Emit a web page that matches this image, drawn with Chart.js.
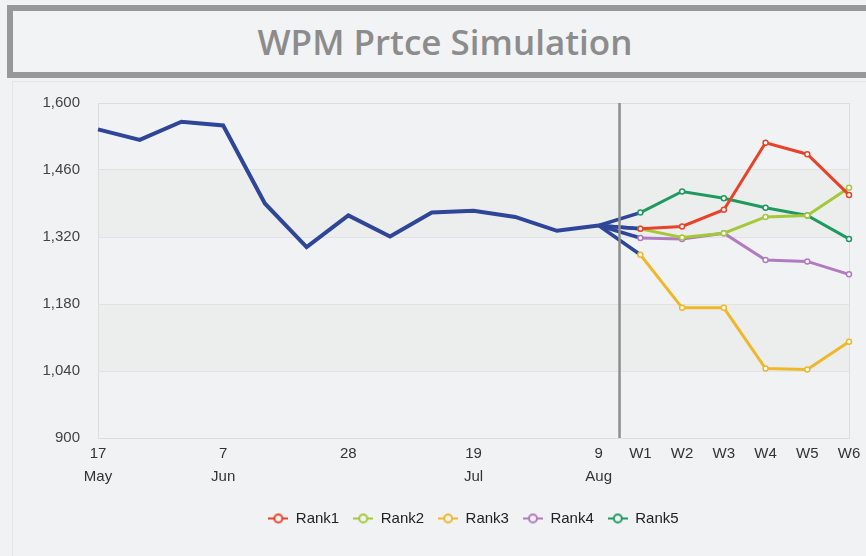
<!DOCTYPE html>
<html lang="en">
<head>
  <meta charset="UTF-8">
  <title>WPM Prtce Simulation</title>
  <script src="https://cdn.jsdelivr.net/npm/chart.js"></script>
  <style>
    html, body {
      margin: 0;
      padding: 0;
      width: 866px;
      height: 556px;
      overflow: hidden;
      background-color: #f1f2f4;
    }
    #titulo {
      position: absolute;
      left: 7px;
      top: 5px;
      width: 864px;
      height: 61px;
      border: 6px solid #97989a;
      background-color: #f2f3f5;
      color: #8c8c8c;
      font-family: "Open Sans", sans-serif;
      font-weight: 600;
      font-size: 35px;
      line-height: 61px;
      text-align: center;
    }
    #panel {
      position: absolute;
      left: 12px;
      top: 81px;
      width: 880px;
      height: 500px;
      border-left: 1px solid #e4e5e7;
      border-top: 1px solid #e4e5e7;
    }
    #grafico {
      position: absolute;
      left: 0;
      top: 76px;
    }
  </style>
</head>
<body>
  <div id="titulo">WPM Prtce Simulation</div>
  <div id="panel"></div>
  <canvas id="grafico" width="866" height="480"></canvas>

  <script>
    // etiquetas semanales: 17 May ... 9 Aug, luego semanas simuladas
    const xLabels = [
      ['17', 'May'], '', '', ['7', 'Jun'], '', '', '28', '', '', ['19', 'Jul'], '', '', ['9', 'Aug'],
      'W1', 'W2', 'W3', 'W4', 'W5', 'W6'
    ];
    const actual = [1545, 1523, 1561, 1553, 1390, 1299, 1365, 1321, 1371, 1375, 1362, 1333, 1344];
    const rank1 = [1337, 1342, 1377, 1517, 1493, 1408];
    const rank2 = [1337, 1319, 1328, 1362, 1365, 1423];
    const rank3 = [1283, 1172, 1172, 1045, 1043, 1101];
    const rank4 = [1318, 1316, 1328, 1272, 1269, 1242];
    const rank5 = [1371, 1415, 1401, 1381, 1365, 1316];
    const rankNames = ['Rank1', 'Rank2', 'Rank3', 'Rank4', 'Rank5'];
    const yTicks = [900, 1040, 1180, 1320, 1460, 1600];

    const blue = '#2f4698';
    const colores = ['#e8432a', '#a5c83a', '#efb72a', '#b07bc0', '#1f9a5f'];

    const lastIdx = actual.length - 1;

    function serieRank(vals) {
      const arr = new Array(lastIdx).fill(null);
      arr.push(actual[lastIdx]);
      return arr.concat(vals);
    }

    // marcador de leyenda: linea con circulo
    function marcador(color) {
      const c = document.createElement('canvas');
      c.width = 20;
      c.height = 12;
      const g = c.getContext('2d');
      g.strokeStyle = color;
      g.lineWidth = 2;
      g.beginPath();
      g.moveTo(0, 6);
      g.lineTo(20, 6);
      g.stroke();
      g.fillStyle = '#f1f2f4';
      g.beginPath();
      g.arc(10, 6, 4, 0, Math.PI * 2);
      g.fill();
      g.stroke();
      return c;
    }
    const marcadores = colores.map(marcador);

    const rankData = [rank1, rank2, rank3, rank4, rank5];
    const datasets = rankData.map((vals, i) => ({
      label: rankNames[i],
      data: serieRank(vals),
      borderColor: colores[i],
      backgroundColor: '#ffffff',
      borderWidth: 3,
      pointRadius: ctx => ctx.dataIndex === lastIdx ? 0 : 2.5,
      pointBorderWidth: 1.5,
      pointBackgroundColor: '#ffffff',
      pointBorderColor: colores[i],
      tension: 0,
      segment: {
        borderColor: ctx => ctx.p0DataIndex === lastIdx ? blue : undefined,
        borderWidth: ctx => ctx.p0DataIndex === lastIdx ? 3.5 : undefined
      }
    }));
    datasets.push({
      label: 'Actual',
      data: actual,
      borderColor: blue,
      borderWidth: 4,
      pointRadius: 0,
      tension: 0,
      order: 10
    });

    // bandas alternas, borde del area y linea vertical de corte
    const fondo = {
      id: 'fondo',
      beforeDatasetsDraw(chart) {
        const { ctx, chartArea, scales } = chart;
        const y = scales.y;
        ctx.save();
        ctx.fillStyle = 'rgba(225,228,222,0.3)';
        for (let k = 0; k < yTicks.length - 1; k++) {
          if (k % 2 === 1) {
            const t = y.getPixelForValue(yTicks[k + 1]);
            const b = y.getPixelForValue(yTicks[k]);
            ctx.fillRect(chartArea.left, t, chartArea.right - chartArea.left, b - t);
          }
        }
        ctx.strokeStyle = '#dcdddf';
        ctx.lineWidth = 1;
        ctx.strokeRect(chartArea.left + 0.5, chartArea.top + 0.5,
          chartArea.right - chartArea.left, chartArea.bottom - chartArea.top);
        ctx.restore();
      },
      afterDatasetsDraw(chart) {
        const { ctx, chartArea, scales } = chart;
        const xs = (scales.x.getPixelForValue(lastIdx) + scales.x.getPixelForValue(lastIdx + 1)) / 2;
        ctx.save();
        ctx.strokeStyle = '#8e8e8e';
        ctx.lineWidth = 2.5;
        ctx.beginPath();
        ctx.moveTo(xs, chartArea.top);
        ctx.lineTo(xs, chartArea.bottom);
        ctx.stroke();
        ctx.restore();
      }
    };

    const ctx = document.getElementById('grafico').getContext('2d');
    new Chart(ctx, {
      type: 'line',
      data: { labels: xLabels, datasets: datasets },
      plugins: [fondo],
      options: {
        responsive: false,
        animation: false,
        layout: { padding: { top: 13, right: 17, left: 0, bottom: 20 } },
        plugins: {
          tooltip: { enabled: false },
          legend: {
            position: 'bottom',
            fullSize: false,
            labels: {
              usePointStyle: true,
              pointStyleWidth: 20,
              padding: 14,
              color: '#222',
              font: { family: 'Liberation Sans', size: 15 },
              filter: item => item.text !== 'Actual',
              generateLabels(chart) {
                const items = Chart.defaults.plugins.legend.labels.generateLabels(chart);
                items.forEach(it => {
                  if (it.datasetIndex < marcadores.length) it.pointStyle = marcadores[it.datasetIndex];
                });
                return items;
              }
            }
          }
        },
        scales: {
          x: {
            offset: false,
            grid: { display: false, drawTicks: false },
            border: { color: '#dcdcdc' },
            afterFit(scale) { scale.height = 59; },
            ticks: {
              autoSkip: false,
              maxRotation: 0,
              padding: 5,
              color: '#333',
              font: { family: 'Liberation Sans', size: 15, lineHeight: 1.5 }
            }
          },
          y: {
            min: 900,
            max: 1600,
            afterFit(scale) { scale.width = 98; },
            afterBuildTicks(scale) { scale.ticks = yTicks.map(v => ({ value: v })); },
            grid: { color: '#e1e2e3', drawTicks: false },
            border: { color: '#dcdcdc' },
            ticks: {
              padding: 18,
              color: '#444',
              font: { family: 'Liberation Sans', size: 15 },
              callback: v => v.toLocaleString('en-US')
            }
          }
        }
      }
    });
  </script>
</body>
</html>
